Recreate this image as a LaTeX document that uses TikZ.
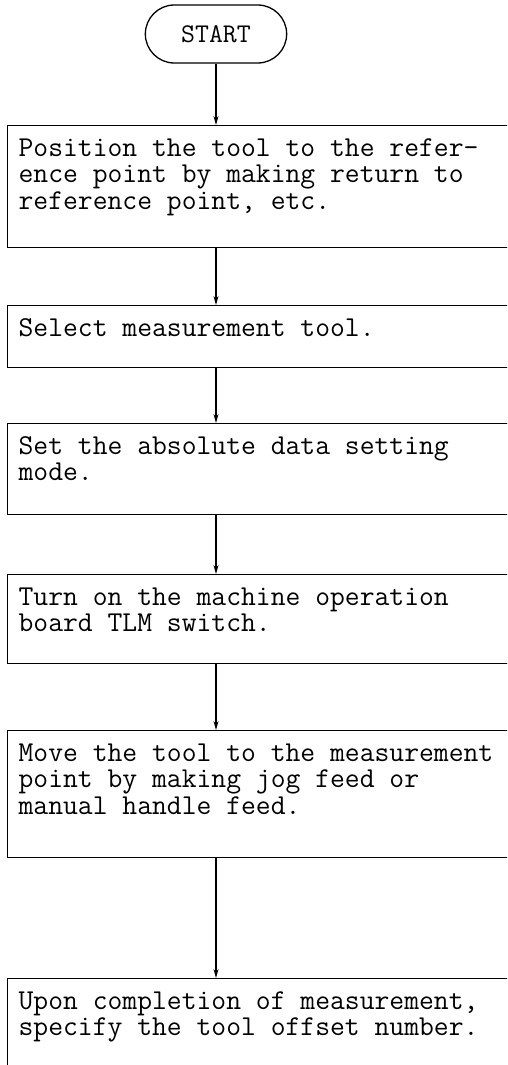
\documentclass[tikz,border=0pt]{standalone}
\usepackage{tikz}
\usetikzlibrary{arrows.meta, shapes.misc}

\newcommand{\steptext}[2]{\parbox[c][#1][t]{480pt}{\vspace*{12pt}\raggedright\strut #2}}

\begin{document}
\begin{tikzpicture}[x=1pt, y=-1pt,
    stepbox/.style={draw, line width=1.3pt, anchor=north west, inner xsep=11pt,
                    inner ysep=0pt, font=\ttfamily\fontsize{28.8}{26.5}\selectfont},
    flow/.style={-{Stealth[length=9pt, width=5pt]}, line width=1.1pt}]
  \clip (0,0) rectangle (507,1065);
  % Start
  \node[draw, line width=1.3pt, rounded rectangle, minimum width=148pt, minimum height=58pt,
        font=\ttfamily\fontsize{27}{26}\selectfont] (start) at (216,34) {START};
  % Steps
  \node[stepbox] (s1) at (7,125) {\steptext{122pt}{Position the tool to the refer-\\ence point by making return to\\reference point, etc.}};
  \node[stepbox] (s2) at (7,305) {\steptext{62pt}{Select measurement tool.}};
  \node[stepbox] (s3) at (7,423) {\steptext{91pt}{Set the absolute data setting\\mode.}};
  \node[stepbox] (s4) at (7,574) {\steptext{89pt}{Turn on the machine operation\\board TLM switch.}};
  \node[stepbox] (s5) at (7,730) {\steptext{127pt}{Move the tool to the measurement\\point by making jog feed or\\manual handle feed.}};
  \node[stepbox] (s6) at (7,978) {\steptext{120pt}{Upon completion of measurement,\\specify the tool offset number.}};
  % Arrows
  \draw[flow] (start.south) -- (start |- s1.north);
  \draw[flow] (start |- s1.south) -- (start |- s2.north);
  \draw[flow] (start |- s2.south) -- (start |- s3.north);
  \draw[flow] (start |- s3.south) -- (start |- s4.north);
  \draw[flow] (start |- s4.south) -- (start |- s5.north);
  \draw[flow] (start |- s5.south) -- (start |- s6.north);
\end{tikzpicture}
\end{document}
